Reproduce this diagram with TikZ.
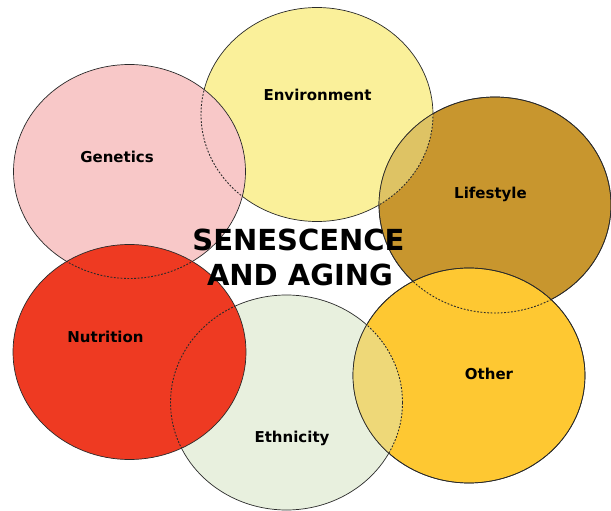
\documentclass[tikz,border=0pt]{standalone}
\usepackage{fontspec}
\setmainfont{DejaVu Sans}
\definecolor{cG}{HTML}{F8C8C8}
\definecolor{cE}{HTML}{FAF09A}
\definecolor{cL}{HTML}{C8962E}
\definecolor{cN}{HTML}{EE3A22}
\definecolor{cT}{HTML}{E8F0DE}
\definecolor{cO}{HTML}{FEC832}
\definecolor{cEL}{HTML}{DEC364}
\definecolor{cTO}{HTML}{EED878}
\definecolor{edge}{HTML}{2A2A2A}
\def\ellG{(129.5,171.5) ellipse [x radius=116pt, y radius=107pt]}
\def\ellE{(317,114.5) ellipse [x radius=116pt, y radius=107pt]}
\def\ellL{(495,205) ellipse [x radius=116pt, y radius=108pt]}
\def\ellN{(129.5,352) ellipse [x radius=116.5pt, y radius=107.5pt]}
\def\ellT{(286.5,402.5) ellipse [x radius=116pt, y radius=107.5pt]}
\def\ellO{(469,375.5) ellipse [x radius=116pt, y radius=107.5pt]}
\begin{document}
\begin{tikzpicture}[x=1pt,y=-1pt,
  solidedge/.style={draw=edge,line width=0.7pt},
  hiddenedge/.style={draw=edge,line width=0.9pt,dash pattern=on 1.8pt off 1.6pt},
  label/.style={font=\fontsize{15}{18}\selectfont\bfseries,anchor=base,inner sep=0pt},
  title/.style={font=\fontsize{29}{33}\selectfont\bfseries,anchor=base,inner sep=0pt}]
\useasboundingbox[fill=white] (0,0) rectangle (611,511);
% Environment and Genetics
\path[fill=cE,solidedge] \ellE;
\path[fill=cG,solidedge] \ellG;
\begin{scope}\clip \ellG; \path[hiddenedge] \ellE; \end{scope}
% Lifestyle over Environment (see-through overlap)
\path[fill=cL,solidedge] \ellL;
\begin{scope}\clip \ellE; \path[fill=cEL] \ellL; \end{scope}
\begin{scope}\clip \ellL; \path[hiddenedge] \ellE; \end{scope}
\path[solidedge] \ellL;
% Ethnicity and Other
\path[fill=cT,solidedge] \ellT;
\path[fill=cO,solidedge] \ellO;
\begin{scope}\clip \ellT; \path[fill=cTO] \ellO; \end{scope}
\begin{scope}\clip \ellO; \path[hiddenedge] \ellT; \path[hiddenedge] \ellL; \end{scope}
\path[solidedge] \ellO;
% Nutrition
\path[fill=cN,solidedge] \ellN;
\begin{scope}\clip \ellN; \path[hiddenedge] \ellG; \path[hiddenedge] \ellT; \end{scope}
% labels
\node[label] (env) at (317.5,100) {Environment};
\node[label] (gen) at (117,162) {Genetics};
\node[label] (life) at (490.5,198) {Lifestyle};
\node[label] (nut) at (105.5,342) {Nutrition};
\node[label] (oth) at (489,379) {Other};
\node[label] (eth) at (292,442) {Ethnicity};
\node[title] (t1) at (298.5,250) {SENESCENCE};
\node[title] (t2) at (300,285) {AND AGING};
\end{tikzpicture}
\end{document}
